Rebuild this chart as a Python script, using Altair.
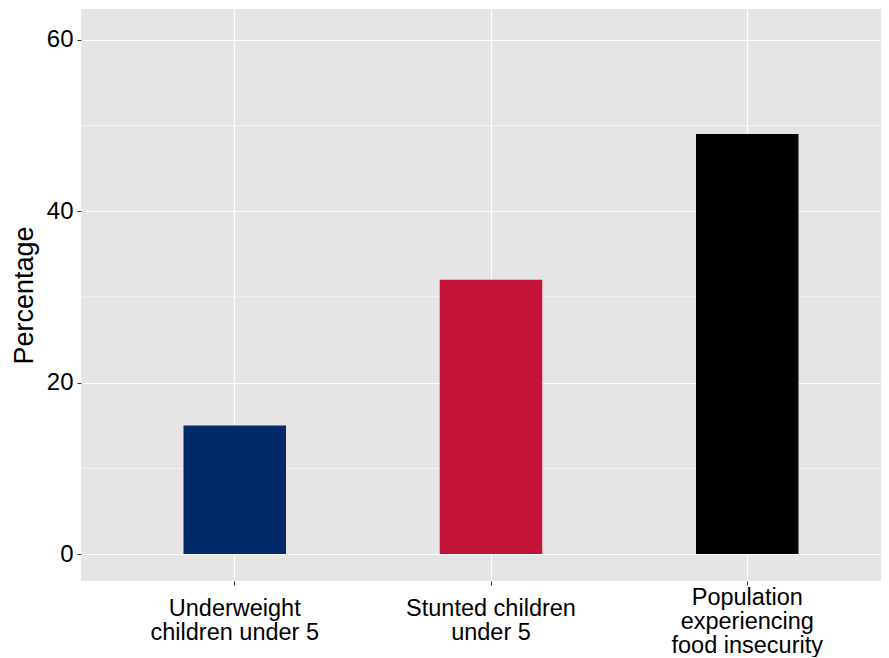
import altair as alt
import pandas as pd

categories = [
    "Underweight\nchildren under 5",
    "Stunted children\nunder 5",
    "Population\nexperiencing\nfood insecurity",
]
values = [15, 32, 49]
colors = ["#022A6B", "#C41338", "#000000"]
y_ticks = [0, 20, 40, 60]
minor_ticks = [10, 30, 50]

df = pd.DataFrame({"category": categories, "value": values, "color": colors})
minor = pd.DataFrame({"v": minor_ticks})

FONT = "Liberation Sans"
W, H = 800, 572

y_scale = alt.Scale(domain=[-3.15, 63.6], nice=False, zero=False)

minor_rules = alt.Chart(minor).mark_rule(color="white", strokeWidth=0.6).encode(
    y=alt.Y("v:Q", scale=y_scale),
    x=alt.value(0),
    x2=alt.value(W),
)

bars = alt.Chart(df).mark_bar().encode(
    x=alt.X(
        "category:N",
        sort=categories,
        title=None,
        scale=alt.Scale(range=[0, 820], paddingInner=0.6, paddingOuter=0.4),
        axis=alt.Axis(
            labelAngle=0,
            labelExpr="split(datum.label, '\\n')",
            labelFont=FONT,
            labelFontSize=23.5,
            labelLineHeight=24,
            labelColor="black",
            labelBaseline="top",
            labelPadding={
                "condition": {
                    "test": "length(split(datum.value, '\\n')) > 2",
                    "value": 0,
                },
                "value": 11,
            },
            tickSize=4,
            tickColor="#333333",
            domain=False,
            grid=True,
            gridColor="white",
            gridWidth=1.2,
        ),
    ),
    y=alt.Y(
        "value:Q",
        scale=y_scale,
        title="Percentage",
        axis=alt.Axis(
            values=y_ticks,
            labelFont=FONT,
            labelFontSize=24,
            labelColor="black",
            labelPadding=4,
            tickSize=4,
            tickColor="#333333",
            domain=False,
            grid=True,
            gridColor="white",
            gridWidth=1.2,
            titleFont=FONT,
            titleFontSize=27,
            titleFontWeight="normal",
            titleColor="black",
            titlePadding=8,
        ),
    ),
    color=alt.Color("color:N", scale=None, legend=None),
)

chart = (
    alt.layer(minor_rules, bars)
    .properties(
        width=W,
        height=H,
        autosize=alt.AutoSizeParams(type="none"),
        padding={"left": 73, "top": 1, "right": 0, "bottom": 76},
    )
    .configure_view(fill="#E5E5E5", stroke=None)
)

chart.save("out.html", embed_options={"renderer": "svg", "actions": False})
